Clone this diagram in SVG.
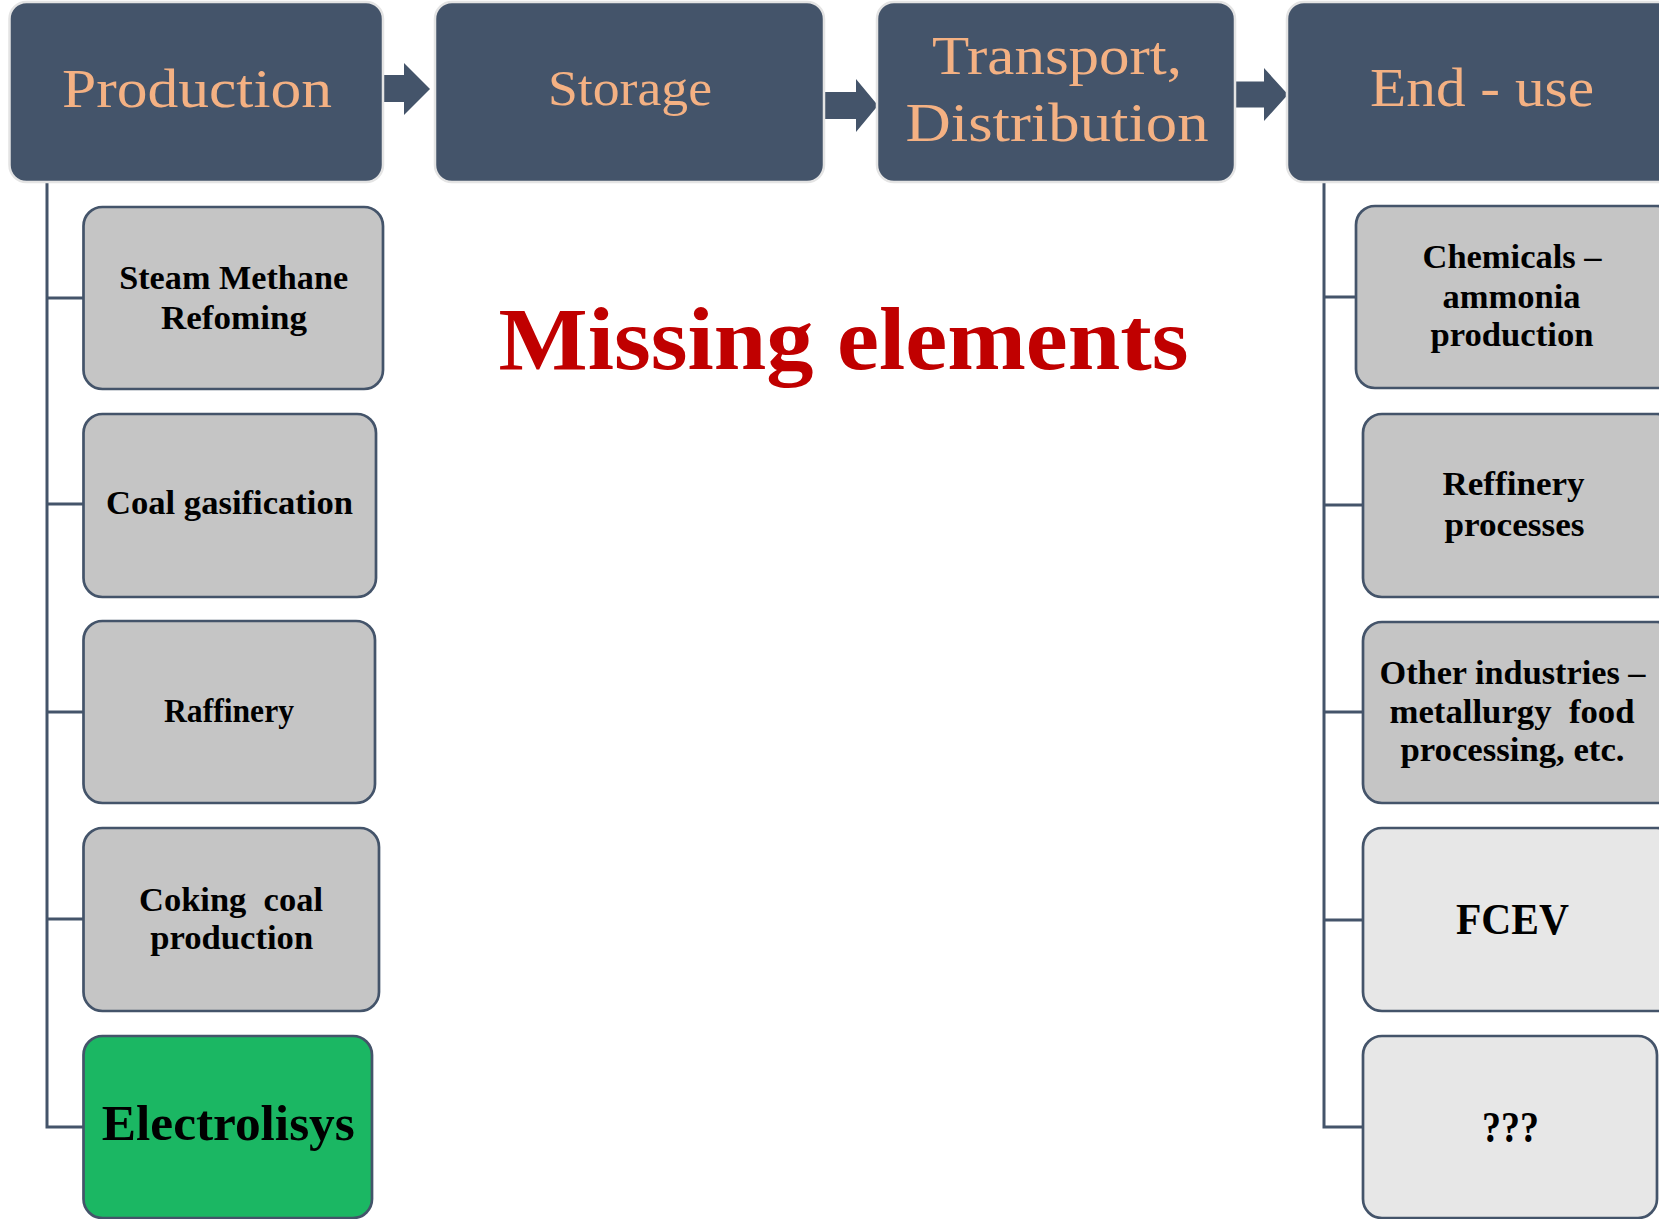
<svg xmlns="http://www.w3.org/2000/svg" width="1659" height="1219" viewBox="0 0 1659 1219">
<style>
.hdr{fill:#44546A;stroke:#E4E4E4;stroke-width:2.5}
.sub{fill:#C5C5C5;stroke:#44546A;stroke-width:2.7}
.lite{fill:#E7E7E7;stroke:#44546A;stroke-width:2.7}
.green{fill:#1BB763;stroke:#44546A;stroke-width:2.7}
.ht{font-family:"Liberation Serif","Times New Roman",serif;fill:#F4B183;text-anchor:middle}
.st{font-family:"Liberation Serif","Times New Roman",serif;font-weight:bold;fill:#000;text-anchor:middle;font-size:34px}
.conn{fill:none;stroke:#44546A;stroke-width:3}
.arr{fill:#44546A}
</style>
<rect x="0" y="0" width="1659" height="1219" fill="#FFFFFF"/>

<g id="connectors">
  <path class="conn" d="M47,182 V1127 H84 M47,298 H84 M47,504 H84 M47,712 H84 M47,919 H84"/>
  <path class="conn" d="M1324,182 V1127 H1363 M1324,297 H1356 M1324,505 H1363 M1324,712 H1363 M1324,920 H1363"/>
  <polygon class="arr" points="382,75 404,75 404,63 430,89 404,115 404,102 382,102"/>
  <polygon class="arr" points="823,92 856,92 856,79 878,105.5 856,132 856,119 823,119"/>
  <polygon class="arr" points="1234,81.5 1264,81.5 1264,68 1288,94.5 1264,121 1264,107.5 1234,107.5"/>
</g>

<g id="production">
  <rect class="hdr" x="9.5" y="2" width="373.5" height="180" rx="17"/>
  <text class="ht" x="197" y="107" style="font-size:54px" textLength="270" lengthAdjust="spacingAndGlyphs">Production</text>
</g>
<g id="storage">
  <rect class="hdr" x="435" y="2" width="389" height="180" rx="17"/>
  <text class="ht" x="630" y="105" style="font-size:50px" textLength="164" lengthAdjust="spacingAndGlyphs">Storage</text>
</g>
<g id="transport">
  <rect class="hdr" x="877" y="2" width="358" height="180" rx="17"/>
  <text class="ht" x="1057" y="74" style="font-size:54px" textLength="250" lengthAdjust="spacingAndGlyphs">Transport,</text>
  <text class="ht" x="1057" y="141" style="font-size:54px" textLength="303" lengthAdjust="spacingAndGlyphs">Distribution</text>
</g>
<g id="end-use">
  <rect class="hdr" x="1287" y="2" width="400" height="180" rx="17"/>
  <text class="ht" x="1482" y="106" style="font-size:54px" textLength="224" lengthAdjust="spacingAndGlyphs">End - use</text>
</g>

<g id="missing-elements">
  <text x="843.5" y="369" font-family="Liberation Serif,'Times New Roman',serif" font-weight="bold" font-size="89" fill="#C00000" text-anchor="middle" textLength="690" lengthAdjust="spacingAndGlyphs">Missing elements</text>
</g>

<g id="smr">
  <rect class="sub" x="83.5" y="207" width="299.5" height="182" rx="19"/>
  <text class="st" x="233.7" y="289" textLength="229" lengthAdjust="spacingAndGlyphs">Steam Methane</text>
  <text class="st" x="234" y="329" textLength="146" lengthAdjust="spacingAndGlyphs">Refoming</text>
</g>
<g id="coal-gasification">
  <rect class="sub" x="83.5" y="414" width="292.5" height="183" rx="19"/>
  <text class="st" x="229.5" y="514" textLength="247" lengthAdjust="spacingAndGlyphs">Coal gasification</text>
</g>
<g id="raffinery">
  <rect class="sub" x="83.5" y="621" width="291.5" height="182" rx="19"/>
  <text class="st" x="229" y="722" textLength="130" lengthAdjust="spacingAndGlyphs">Raffinery</text>
</g>
<g id="coking">
  <rect class="sub" x="83.5" y="828" width="295.5" height="183" rx="19"/>
  <text class="st" x="231" y="911" xml:space="preserve" textLength="184" lengthAdjust="spacingAndGlyphs">Coking  coal</text>
  <text class="st" x="231.7" y="949" textLength="163" lengthAdjust="spacingAndGlyphs">production</text>
</g>
<g id="electrolisys">
  <rect class="green" x="83.5" y="1036" width="288.5" height="182" rx="19"/>
  <text class="st" x="228.3" y="1140" style="font-size:50px" textLength="253" lengthAdjust="spacingAndGlyphs">Electrolisys</text>
</g>

<g id="chemicals">
  <rect class="sub" x="1356" y="206" width="320" height="182" rx="19"/>
  <text class="st" x="1512" y="268" textLength="179" lengthAdjust="spacingAndGlyphs">Chemicals –</text>
  <text class="st" x="1511.5" y="308" textLength="138" lengthAdjust="spacingAndGlyphs">ammonia</text>
  <text class="st" x="1512" y="346" textLength="163" lengthAdjust="spacingAndGlyphs">production</text>
</g>
<g id="refinery-processes">
  <rect class="sub" x="1363" y="414" width="313" height="183" rx="19"/>
  <text class="st" x="1513.5" y="495" textLength="142" lengthAdjust="spacingAndGlyphs">Reffinery</text>
  <text class="st" x="1514.5" y="536" textLength="140" lengthAdjust="spacingAndGlyphs">processes</text>
</g>
<g id="other-industries">
  <rect class="sub" x="1363" y="622" width="313" height="181" rx="19"/>
  <text class="st" x="1512.5" y="684" textLength="266" lengthAdjust="spacingAndGlyphs">Other industries –</text>
  <text class="st" x="1512" y="723" xml:space="preserve" textLength="245" lengthAdjust="spacingAndGlyphs">metallurgy  food</text>
  <text class="st" x="1512.5" y="761" textLength="224" lengthAdjust="spacingAndGlyphs">processing, etc.</text>
</g>
<g id="fcev">
  <rect class="lite" x="1363" y="828" width="313" height="183" rx="19"/>
  <text class="st" x="1512.5" y="934" style="font-size:45px" textLength="113" lengthAdjust="spacingAndGlyphs">FCEV</text>
</g>
<g id="unknown">
  <rect class="lite" x="1363" y="1036" width="294" height="182" rx="19"/>
  <text class="st" x="1510.5" y="1142" style="font-size:45px" textLength="57" lengthAdjust="spacingAndGlyphs">???</text>
</g>
</svg>
